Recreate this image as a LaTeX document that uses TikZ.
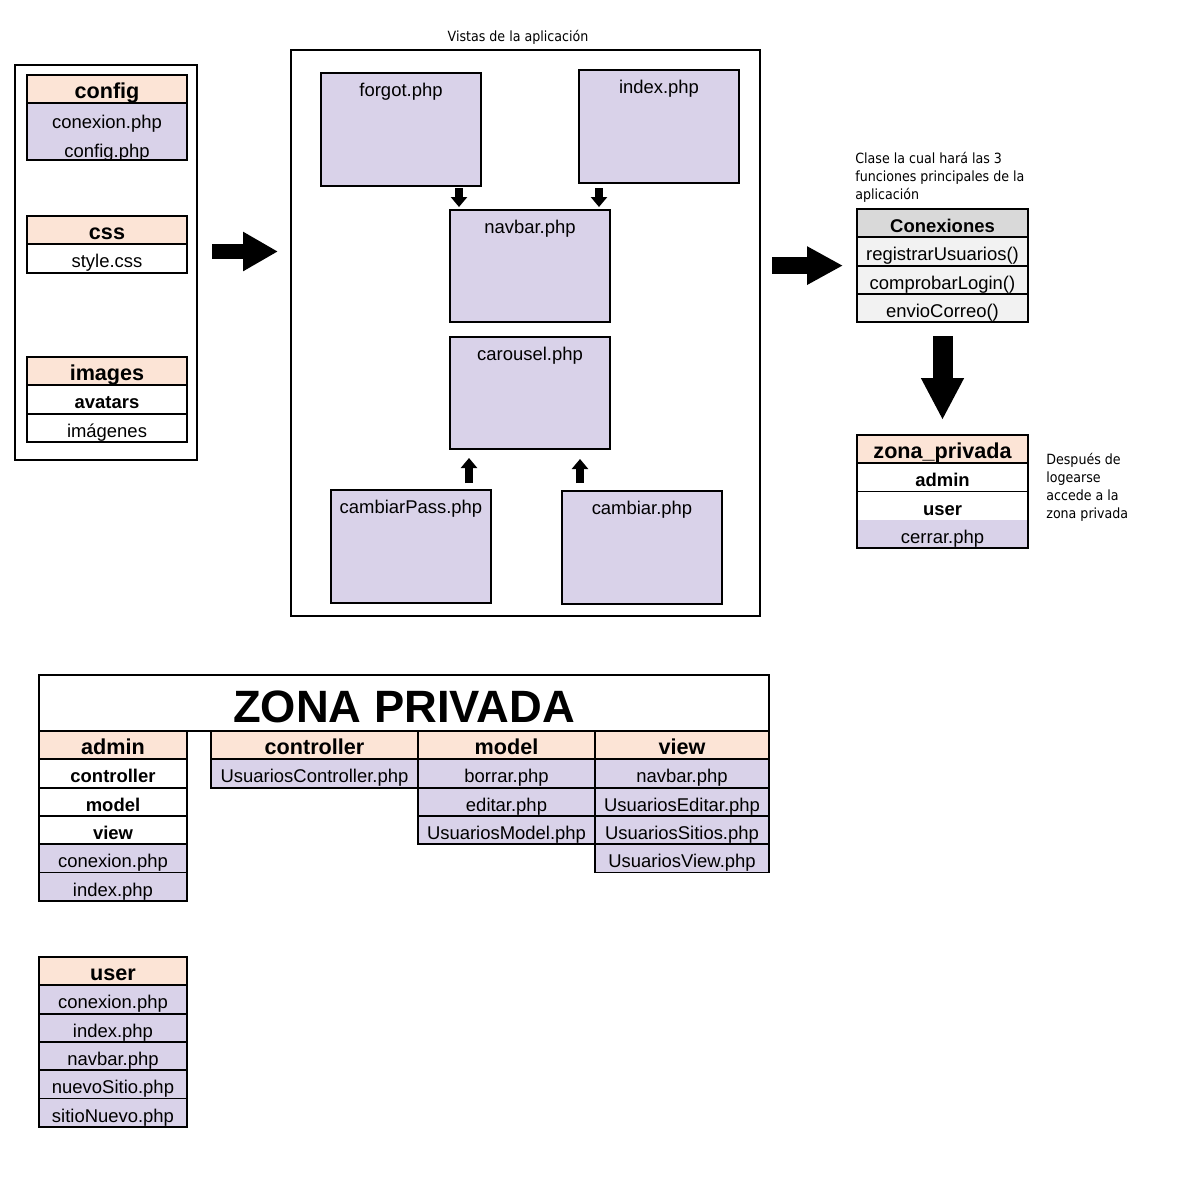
\documentclass[tikz,border=0pt]{standalone}
\usepackage{fontspec}
\setmainfont{Liberation Sans}
\newfontfamily\notefont{DejaVu Sans Condensed}
\usetikzlibrary{positioning,arrows.meta,calc}
\definecolor{Peach}{HTML}{FCE4D6}
\definecolor{Lila}{HTML}{D9D2E9}
\definecolor{Gris}{HTML}{D9D9D9}
\definecolor{GrisClaro}{HTML}{F2F2F2}
\newlength\px
\setlength\px{0.02cm}
\newcommand\cellfont{\fontsize{10.5}{12}\selectfont}
\newcommand\hdrfont{\bfseries\fontsize{12.3}{14}\selectfont}
\newcommand\notesize{\notefont\fontsize{8}{10.2}\selectfont}

\tikzset{
  cell/.style={draw, line width=1.1pt, minimum width=#1\px, minimum height=28.3\px,
    inner sep=0pt, outer sep=0pt, text height=11.2pt, text depth=0.4pt, font=\cellfont},
  hdr/.style={cell=#1, fill=Peach, font=\hdrfont},
  file/.style={cell=#1, fill=Lila},
  dir/.style={cell=#1, fill=white, font=\cellfont\bfseries},
  plain/.style={cell=#1, fill=white},
  panel/.style={draw, line width=0.6pt, anchor=north west, inner sep=0pt, outer sep=0pt},
  viewbox/.style={draw, line width=1.1pt, fill=Lila, minimum width=160\px,
    minimum height=113\px, anchor=north west, outer sep=0pt,
    label={[anchor=base, yshift=-23\px, font=\cellfont]north:#1}},
  note/.style={font=\notesize, align=left, inner sep=0pt, anchor=north west},
  bigarrow/.style={line width=0.34cm, -{Triangle[width=0.72cm,length=0.72cm]}},
  smallarrow/.style={line width=0.16cm, -{Triangle[width=0.32cm,length=0.2cm]}}
}

\begin{document}
\begin{tikzpicture}[x=0.02cm,y=-0.02cm]
  \useasboundingbox (0,0) rectangle (1186,1180);

  % Panels
  \node[panel, minimum width=182\px, minimum height=395\px] (leftpanel) at (15,65) {};
  \node[panel, minimum width=469\px, minimum height=566\px] (views) at (291,50) {};
  \node[font=\notesize] (vistas) at (518,37) {Vistas de la aplicación};

  % config
  \node[hdr=160, anchor=north west] (config) at (27,75) {config};
  \node[file=160, minimum height=57\px, below=0pt of config,
    label={[anchor=base, yshift=-24.7\px, font=\cellfont]north:conexion.php},
    label={[anchor=base, yshift=-53.7\px, font=\cellfont]north:config.php}] (configfiles) {};

  % css
  \node[hdr=160, anchor=north west] (css) at (27,216) {css};
  \node[plain=160, below=0pt of css] (stylecss) {style.css};

  % images
  \node[hdr=160, anchor=north west] (images) at (27,357) {images};
  \node[dir=160, below=0pt of images] (avatars) {avatars};
  \node[plain=160, below=0pt of avatars, line width=0.6pt] (imagenes) {imágenes};
  \draw[line width=1.1pt] (avatars.south west) rectangle (imagenes.south east);

  % Vistas
  \node[viewbox=forgot.php] (forgot) at (321,73) {};
  \node[viewbox=index.php] (index) at (579,70) {};
  \node[viewbox=navbar.php, minimum height=112\px] (navbar) at (450,210) {};
  \node[viewbox=carousel.php, minimum height=112\px] (carousel) at (450,337) {};
  \node[viewbox=cambiarPass.php] (cambiarpass) at (331,490) {};
  \node[viewbox=cambiar.php] (cambiar) at (562,491) {};

  % Small arrows between views
  \coordinate (d1) at ([xshift=9\px]navbar.north west);
  \coordinate (d2) at ([xshift=-11\px]navbar.north east);
  \coordinate (u1) at ([xshift=19\px]carousel.south west);
  \coordinate (u2) at ([xshift=-30\px]carousel.south east);
  \draw[smallarrow, shorten <=0.04cm, shorten >=0.06cm] (forgot.south -| d1) -- (d1);
  \draw[smallarrow, shorten <=0.1cm, shorten >=0.06cm] (index.south -| d2) -- (d2);
  \draw[smallarrow, shorten <=0.14cm, shorten >=0.18cm] (cambiarpass.north -| u1) -- (u1);
  \draw[smallarrow, shorten <=0.16cm, shorten >=0.2cm] (cambiar.north -| u2) -- (u2);

  % Conexiones
  \node[note] (clase) at (855,152)
    {Clase la cual hará las 3\\funciones principales de la\\aplicación};
  \node[cell=171, fill=Gris, font=\cellfont\bfseries, anchor=north west] (conexiones)
    at (857,209) {Conexiones};
  \node[cell=171, fill=GrisClaro, below=0pt of conexiones] (registrar) {registrarUsuarios()};
  \node[cell=171, fill=GrisClaro, below=0pt of registrar] (comprobar) {comprobarLogin()};
  \node[cell=171, fill=GrisClaro, below=0pt of comprobar] (envio) {envioCorreo()};

  % zona_privada
  \node[hdr=171, anchor=north west] (zona) at (857,435) {zona\_privada};
  \node[dir=171, below=0pt of zona, line width=0.6pt] (zadmin) {admin};
  \node[dir=171, draw=none, below=0pt of zadmin] (zuser) {user};
  \node[file=171, draw=none, below=0pt of zuser] (cerrar) {cerrar.php};
  \draw[line width=1.1pt] (zona.south west) rectangle (cerrar.south east);
  \node[note] (despues) at (1046,453) {Después de\\logearse\\accede a la\\zona privada};

  % Big arrows
  \coordinate (arrL) at ([yshift=11\px]leftpanel.east);
  \draw[bigarrow, line width=0.3cm, -{Triangle[width=0.74cm,length=0.7cm]},
    shorten <=0.3cm, shorten >=0.26cm] (arrL) -- (arrL -| views.west);
  \draw[bigarrow, shorten <=0.24cm, shorten >=0.28cm]
    (views.east |- registrar.south) -- (registrar.south west);
  \draw[bigarrow, line width=0.4cm, -{Triangle[width=0.8cm,length=0.84cm]},
    shorten <=0.28cm, shorten >=0.3cm] (envio.south) -- (zona.north);

  % ZONA PRIVADA
  \node[cell=730, minimum height=56\px, font=\bfseries\fontsize{25.8}{28}\selectfont,
    text height=22.6pt, text depth=0pt, anchor=north west] (zp) at (39,675) {ZONA PRIVADA};

  % admin
  \node[hdr=148, anchor=north west] (admin) at (39,731) {admin};
  \node[dir=148, below=0pt of admin] (acontroller) {controller};
  \node[dir=148, below=0pt of acontroller] (amodel) {model};
  \node[dir=148, below=0pt of amodel] (aview) {view};
  \node[file=148, below=0pt of aview] (aconexion) {conexion.php};
  \node[file=148, below=0pt of aconexion] (aindex) {index.php};

  % controller
  \node[hdr=207, anchor=north west] (controller) at (211,731) {controller};
  \node[file=207, below=0pt of controller] (ucontroller) {UsuariosController.php};

  % model
  \node[hdr=177, anchor=north west] (model) at (418,731) {model};
  \node[file=177, below=0pt of model] (borrar) {borrar.php};
  \node[file=177, below=0pt of borrar] (editar) {editar.php};
  \node[file=177, below=0pt of editar] (umodel) {UsuariosModel.php};

  % view
  \node[hdr=174, anchor=north west] (view) at (595,731) {view};
  \node[file=174, below=0pt of view] (vnavbar) {navbar.php};
  \node[file=174, below=0pt of vnavbar] (ueditar) {UsuariosEditar.php};
  \node[file=174, below=0pt of ueditar] (usitios) {UsuariosSitios.php};
  \node[file=174, below=0pt of usitios] (uview) {UsuariosView.php};

  % user
  \node[hdr=148, anchor=north west] (user) at (39,957) {user};
  \node[file=148, below=0pt of user] (uconexion) {conexion.php};
  \node[file=148, below=0pt of uconexion] (uindex) {index.php};
  \node[file=148, below=0pt of uindex] (unavbar) {navbar.php};
  \node[file=148, below=0pt of unavbar] (unuevo) {nuevoSitio.php};
  \node[file=148, below=0pt of unuevo] (usitio) {sitioNuevo.php};
\end{tikzpicture}
\end{document}
